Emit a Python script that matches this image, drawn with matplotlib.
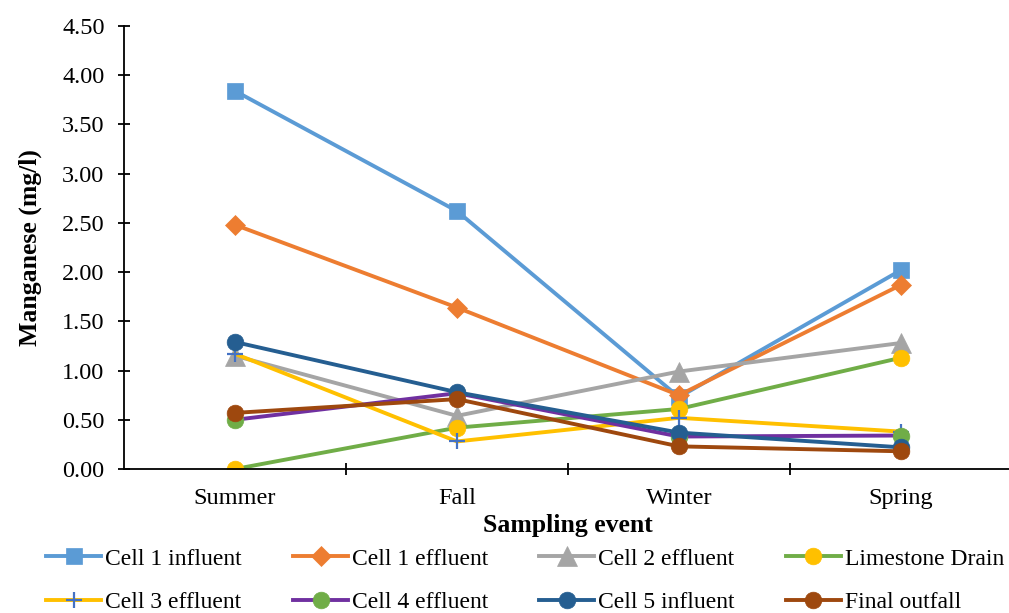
import numpy as np
import matplotlib
matplotlib.use("Agg")
from matplotlib import pyplot as plt
from matplotlib.ticker import FixedLocator, FormatStrFormatter

# Sampling events
events = ["Summer", "Fall", "Winter", "Spring"]

# Manganese (mg/l) per series
cell1_influent = [3.84, 2.62, 0.73, 2.02]
cell1_effluent = [2.48, 1.64, 0.75, 1.87]
cell2_effluent = [1.15, 0.54, 0.99, 1.28]
limestone_drain = [0.00, 0.42, 0.61, 1.13]
cell3_effluent = [1.17, 0.28, 0.52, 0.38]
cell4_effluent = [0.50, 0.77, 0.33, 0.34]
cell5_influent = [1.29, 0.78, 0.37, 0.22]
final_outfall = [0.57, 0.71, 0.23, 0.18]

plt.rcParams["font.family"] = ["Liberation Serif", "DejaVu Serif"]

fig = plt.figure(figsize=(10.09, 6.13), dpi=100)
ax = fig.add_axes([0.1229, 0.2349, 0.880, 0.7227])

x = np.arange(len(events))
lw = 2.8

# (data, label, line colour, marker, marker colour, marker size)
series = [
    (cell1_influent, "Cell 1 influent", "#5B9BD5", "s", "#5B9BD5", 11),
    (cell1_effluent, "Cell 1 effluent", "#ED7D31", "D", "#ED7D31", 10.5),
    (cell2_effluent, "Cell 2 effluent", "#A5A5A5", "^", "#A5A5A5", 14),
    (limestone_drain, "Limestone Drain", "#70AD47", "o", "#FFC000", 12),
    (cell3_effluent, "Cell 3 effluent", "#FFC000", "+", "#4472C4", 12),
    (cell4_effluent, "Cell 4 effluent", "#7030A0", "o", "#70AD47", 12),
    (cell5_influent, "Cell 5 influent", "#255E91", "o", "#255E91", 12),
    (final_outfall, "Final outfall", "#9E480E", "o", "#9E480E", 12),
]

lines = []
for vals, label, lc, mk, mc, ms in series:
    ln, = ax.plot(x, vals, color=lc, lw=lw, marker=mk, markersize=ms,
                  markerfacecolor=mc, markeredgecolor=mc,
                  markeredgewidth=1.6 if mk == "+" else 0.5,
                  label=label, solid_joinstyle="miter")
    lines.append(ln)

ax.set_xlim(-0.5, 3.5)
ax.set_ylim(0, 4.5)
ax.set_xticks(x)
ax.set_xticklabels(events)
ax.xaxis.set_minor_locator(FixedLocator([0.5, 1.5, 2.5, 3.5]))
ax.set_yticks(np.arange(0, 4.51, 0.5))
ax.yaxis.set_major_formatter(FormatStrFormatter("%.2f"))

ax.tick_params(axis="x", which="major", length=0, labelsize=17.5, pad=14)
ax.tick_params(axis="x", which="minor", direction="inout", length=8, width=1.3)
ax.tick_params(axis="y", which="major", direction="inout", length=8, width=1.3,
               labelsize=17.5, pad=10)

for s in ["top", "right"]:
    ax.spines[s].set_visible(False)
for s in ["left", "bottom"]:
    ax.spines[s].set_linewidth(1.3)

ax.set_ylabel("Manganese (mg/l)", fontsize=18.5, fontweight="bold", labelpad=14)
ax.set_xlabel("Sampling event", fontsize=18.5, fontweight="bold", labelpad=3)

# legend filled row by row, as in the original
order = [0, 4, 1, 5, 2, 6, 3, 7]
fig.legend([lines[i] for i in order], [series[i][1] for i in order],
           loc="lower left", bbox_to_anchor=(0.046, 0.0), ncol=4,
           frameon=False, fontsize=17, handlelength=2.33, handletextpad=0.17,
           columnspacing=2.16, labelspacing=0.92, borderpad=0, borderaxespad=0)

fig.savefig("out.png", dpi=100)
